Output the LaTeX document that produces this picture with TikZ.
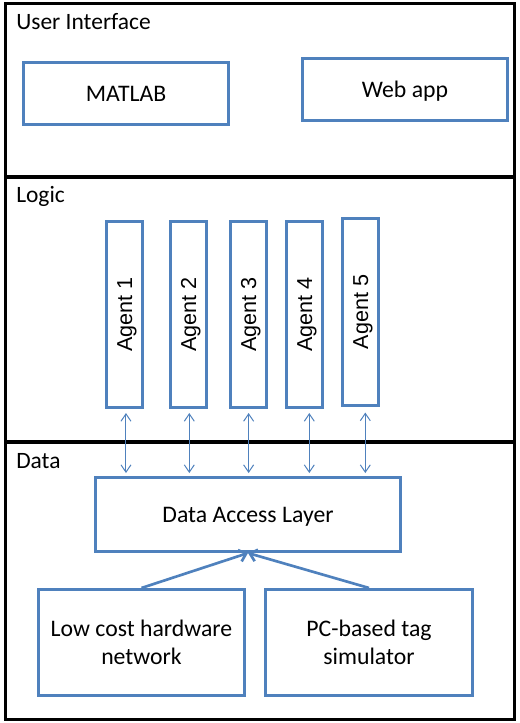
\documentclass[tikz,border=0pt]{standalone}
\usepackage{fontspec}
\setmainfont{Carlito}
\newfontfamily\arialf{Liberation Sans}
\usetikzlibrary{arrows.meta}
\definecolor{ofblue}{HTML}{4F81BD}
\begin{document}
\begin{tikzpicture}[x=0.75pt,y=-0.75pt,
  frame/.style={draw=black,line width=2.6pt},
  divider/.style={draw=black,line width=3.6pt},
  seclabel/.style={anchor=base west,inner sep=0pt,font=\fontsize{17.6}{21}\selectfont},
  bbox/.style={draw=ofblue,line width=2pt,rectangle,inner sep=0pt,align=center,
    font=\fontsize{17.8}{21}\selectfont,text height=11.4pt,text depth=0pt},
  twoline/.style={text height=32.4pt,text depth=0pt},
  agentbox/.style={draw=ofblue,line width=2pt,rectangle,inner sep=0pt,
    minimum width=27.3pt,minimum height=139.8pt},
  agenttext/.style={rotate=90,inner sep=0pt,font=\arialf\fontsize{16.2}{19}\selectfont,
    text height=11.6pt,text depth=0pt},
  thinarrow/.style={draw=ofblue,line width=0.75pt,
    {Straight Barb[length=5.5pt,width=7.5pt]}-{Straight Barb[length=5.5pt,width=7.5pt]}},
  thickarrow/.style={draw=ofblue,line width=2pt,-{Straight Barb[length=5pt,width=9pt]}}
]
\useasboundingbox (0,0) rectangle (519,723);
% frame and sections
\draw[frame] (5.7,3.7) rectangle (514.5,719.7);
\coordinate (d1l) at (5.7,177);
\coordinate (d1r) at (514.5,177);
\coordinate (d2l) at (5.7,442);
\coordinate (d2r) at (514.5,442);
\draw[divider] (d1l) -- (d1r);
\draw[divider] (d2l) -- (d2r);
\node[seclabel] (ui) at (16,30) {User Interface};
\node[seclabel] (logic) at (16,203) {Logic};
\node[seclabel] (data) at (16,468) {Data};
% UI boxes
\node[bbox,minimum width=154pt,minimum height=46.8pt] (matlab) at (126,93.5) {MATLAB};
\node[bbox,minimum width=154pt,minimum height=46.8pt] (web) at (405,89.5) {Web app};
% agents
\node[agentbox] (a1) at (124.5,314.5) {};
\node[agentbox] (a2) at (188.5,314.5) {};
\node[agentbox] (a3) at (248.5,314.5) {};
\node[agentbox] (a4) at (304.5,314.5) {};
\node[agentbox] (a5) at (360.5,312) {};
\node[agenttext] (t1) at (a1.center) {Agent 1};
\node[agenttext] (t2) at (a2.center) {Agent 2};
\node[agenttext] (t3) at (a3.center) {Agent 3};
\node[agenttext] (t4) at (a4.center) {Agent 4};
\node[agenttext] (t5) at (a5.center) {Agent 5};
% data layer
\node[bbox,minimum width=229pt,minimum height=55.8pt] (dal) at (248,514.5) {Data Access Layer};
\node[bbox,twoline,minimum width=154.8pt,minimum height=79.8pt] (hw) at (141.5,642.5) {Low cost hardware\\network};
\node[bbox,twoline,minimum width=154.8pt,minimum height=79.8pt] (pc) at (369,642.5) {PC-based tag\\simulator};
% arrows agents <-> DAL
\draw[thinarrow,shorten <=3pt,shorten >=2.2pt] ([xshift=1.1pt]a1.south) -- ([xshift=1.1pt]a1.south |- dal.north);
\draw[thinarrow,shorten <=3pt,shorten >=2.2pt] ([xshift=0.6pt]a2.south) -- ([xshift=0.6pt]a2.south |- dal.north);
\draw[thinarrow,shorten <=3pt,shorten >=2.2pt] ([xshift=0.1pt]a3.south) -- ([xshift=0.1pt]a3.south |- dal.north);
\draw[thinarrow,shorten <=3pt,shorten >=2.2pt] ([xshift=3.6pt]a4.south) -- ([xshift=3.6pt]a4.south |- dal.north);
\draw[thinarrow,shorten <=4.5pt,shorten >=2.2pt] ([xshift=3.6pt]a5.south) -- ([xshift=3.6pt]a5.south |- dal.north);
% arrows sources -> DAL
\draw[thickarrow] (hw.north) -- (dal.south);
\draw[thickarrow] (pc.north) -- (dal.south);
\end{tikzpicture}
\end{document}
